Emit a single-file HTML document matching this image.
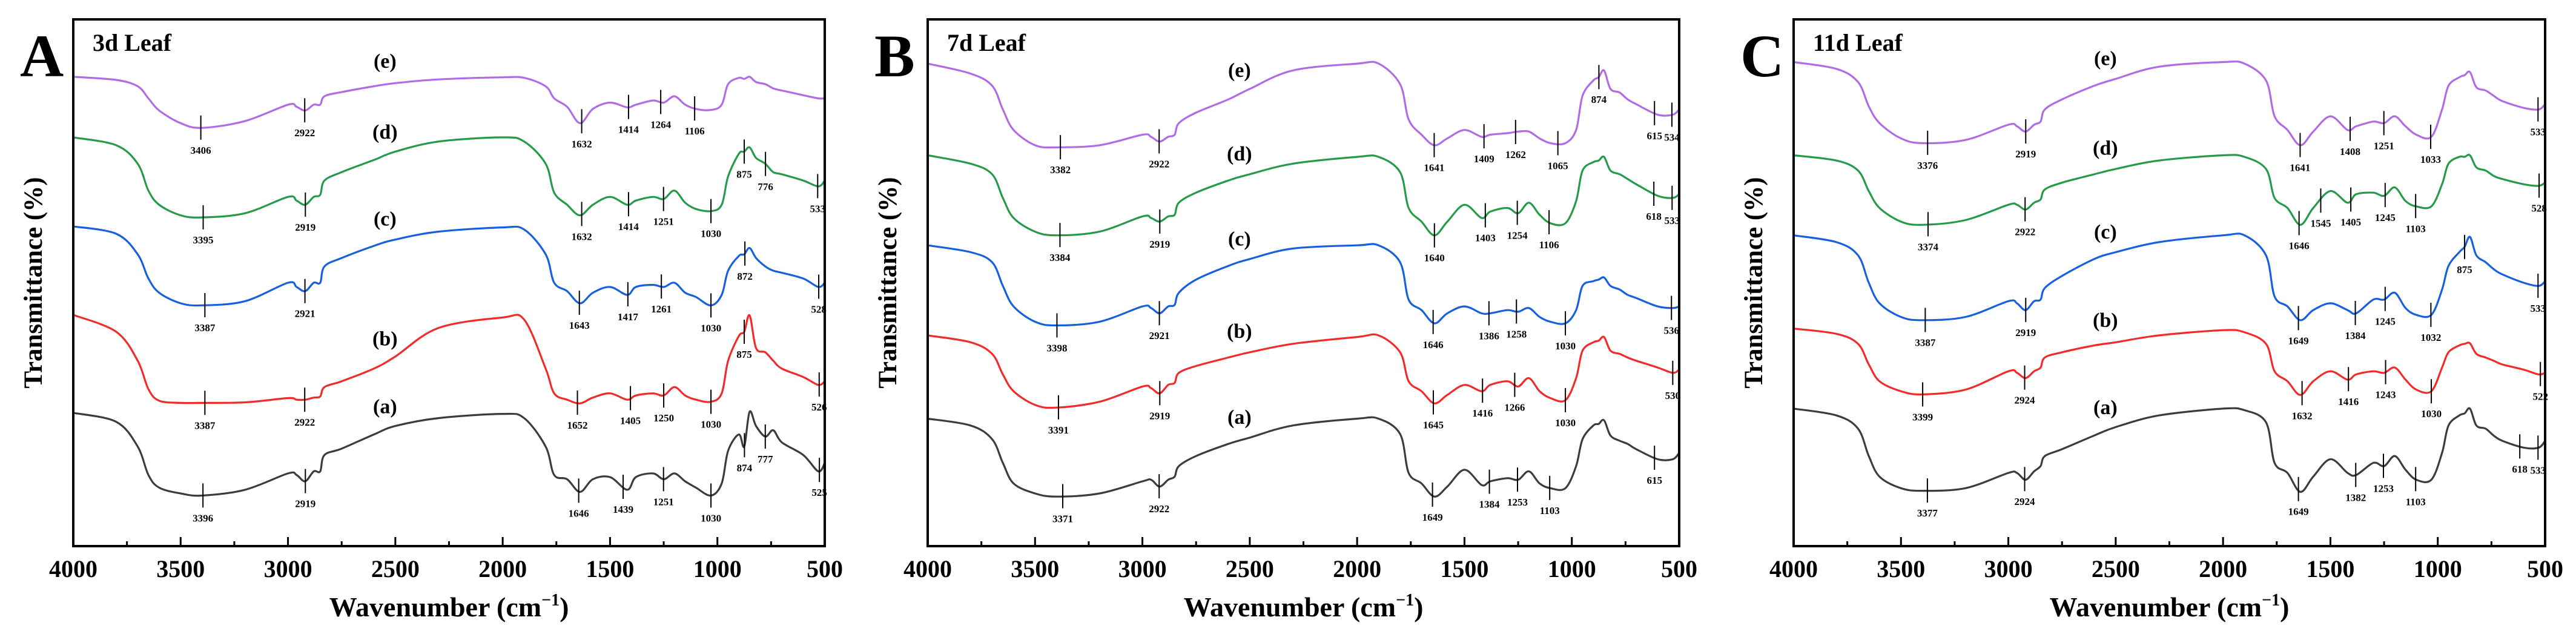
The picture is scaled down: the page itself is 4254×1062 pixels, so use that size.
<!DOCTYPE html>
<html><head><meta charset="utf-8"><style>
html,body{margin:0;padding:0;background:#fff;}
svg{display:block;font-family:"Liberation Serif",serif;font-weight:bold;}
</style></head><body>
<svg id="fig" width="4254" height="1062" viewBox="0 0 4254 1062" xmlns="http://www.w3.org/2000/svg"></svg>
<script>
const wavenumbers=[4000,3800,3700,3650,3600,3500,3400,3200,3000,2960,2920,2880,2850,2830,2750,2600,2500,2300,2000,1900,1800,1760,1700,1640,1580,1500,1420,1380,1300,1250,1200,1150,1100,1030,980,950,900,875,850,820,777,740,700,600,530,500];
const xTicks=[4000,3500,3000,2500,2000,1500,1000,500];
const seriesNames=['a','b','c','d','e'];
const panelTitles=['3d Leaf','7d Leaf','11d Leaf'];
const panelLetters=['A','B','C'];
// Panel A
const A_a=[25.3,23.6,18.9,13.5,11.1,10.0,9.6,10.7,13.8,13.5,12.3,14.2,14.2,17.3,18.5,21.2,22.8,24.3,25.1,24.3,18.9,13.5,12.7,10.3,12.7,13.1,10.7,13.1,13.8,12.7,13.8,12.3,11.1,9.6,11.9,18.1,21.2,18.9,25.5,22.8,20.8,22,19.7,17.3,14.2,15.8];
const A_b=[43.9,40.7,35.2,29.8,27.6,27.2,27.2,27.3,28.1,27.8,27.8,28.2,28.4,30.2,31.3,33.7,36,41.4,43.4,43,33.7,29,27.8,27.1,28.2,29,27.8,28.6,29,28.6,30.2,28.6,27.8,27.4,29,35.2,39.9,40.7,43.8,37.6,36.8,35.2,33.7,32.1,30.6,31.3];
const A_c=[60.7,59.3,55.4,50.8,48.1,46.1,45.7,46.5,50,49.2,48.4,50,50,53.1,54.7,57,58.2,59.7,60.5,60.1,55.4,50,48.4,46.1,48.1,49.2,47.7,49.2,49.6,49.2,50,48.1,47.3,45.7,47.7,52.3,55.1,55.4,56.6,54.7,53.1,52.3,51.9,50.8,49.2,50];
const A_d=[77.6,76.1,72.6,67.5,64.8,62.8,62.4,63.2,66.3,65.6,64.8,66.3,66.7,69.4,71,73.3,74.9,76.8,77.6,76.8,72.6,67.1,64.8,62.8,64.8,66.3,64.8,65.6,66.3,65.9,67.5,65.2,64,63.6,64.8,70.2,74.5,74.9,75.7,73.7,72.6,71,70.6,69.4,68.3,69.4];
const A_e=[89.1,88.5,87.3,85,82.7,80.3,79.4,80.7,83.8,83.4,82.7,83.8,83.8,85.4,86.2,87.3,87.9,88.6,89,88.9,87.3,85,83.4,80.3,83,84.2,83.3,83.8,84.6,84.2,85.4,83.8,83,82.8,83.8,87.7,88.9,88.7,89.1,88.1,87.7,86.9,86.5,85.6,85,85];
// Panel B
const B_a=[24.2,22.9,20.3,15.8,11.9,10,9.4,10,12.3,12.6,11.3,12.6,13.2,15.2,17.1,19.4,20.6,22.9,24.2,24.2,21.3,13.9,11.9,9.4,11.3,14.5,11.6,12.3,12.9,12.6,14.2,11.9,11,11,15.2,20.3,22.9,23.2,23.9,21,20,19.4,18.4,16.5,16.5,17.7];
const B_b=[40,38.7,36.5,32.6,29.4,26.8,26.3,27.4,30.3,30,29,30.6,31,32.9,34.2,35.8,36.8,38.4,39.7,40,36.8,31.3,29.4,27.1,28.7,30.6,29.4,30.6,31.3,30.3,31.9,29.4,28.1,27.7,31.9,37.1,38.7,39,39.7,37.1,36.5,35.8,35.2,33.9,32.9,33.5];
const B_c=[57.1,55.8,53.9,49.4,45.5,42.6,41.9,42.6,45.5,45.2,44.2,45.5,45.8,48.1,50.6,53.2,54.5,56.5,57.1,57.1,53.9,46.8,44.8,42.3,44.2,45.5,44.2,44.2,44.8,44.5,45.2,43.5,42.6,42.3,44.8,49.4,50.3,50.6,51,49.4,48.7,47.7,47.1,45.5,45.2,45.5];
const B_d=[74.2,72.6,70.6,66.1,62.3,59.7,59,59.7,62.6,62.3,61.6,62.6,62.9,65.2,67.1,69.4,70.6,72.6,73.9,73.9,71,64.2,61.6,59,61.6,64.8,62.3,63.5,64.2,63.2,65.2,62.9,61.3,61.3,65.5,71.3,72.9,73.2,73.9,71.3,70.6,69.7,68.7,66.5,66.1,66.8];
const B_e=[91.6,89.7,87.4,82.9,79,76.1,75.7,76.1,78.1,77.7,76.8,77.7,78.1,80.3,82.3,84.8,86.8,90.3,91.6,91.6,87.7,81,78.1,76.1,77.4,79,77.7,78.1,78.4,78.7,78.7,77.4,76.5,76.5,79,85.5,88.4,89,90.3,86.8,86.1,84.8,83.9,81.9,81.9,82.9];
// Panel C
const C_a=[26.1,24.8,22.3,17.1,13.2,11,10.5,11,13.9,13.9,12.6,14.2,15.2,17.1,18.4,21,22.6,24.8,26.1,25.8,23.5,15.8,13.9,10.3,13.2,16.5,13.9,13.5,15.8,15.2,17.1,14.5,12.6,12.6,17.7,22.9,24.8,25.2,26.1,22.9,22.3,21,20,18.7,18.7,20];
const C_b=[41.3,40.3,38.4,34.5,31.3,29.4,28.8,29.7,33.2,32.9,31.9,33.2,33.9,35.8,36.8,38.1,38.7,40,41,40.6,38.4,33.2,31.3,28.7,31.3,33.2,31.6,32.6,33.2,32.9,33.9,31.6,29.7,29.4,33.9,36.8,38.1,38.4,38.5,36.5,35.8,35.2,34.5,33.5,32.6,32.9];
const C_c=[59,57.7,55.2,50,46.1,43.5,42.9,43.5,46.5,46.1,44.8,46.5,46.8,49,51.3,54.5,55.8,57.7,59,59,55.2,47.4,45.5,42.9,44.8,46.1,44.8,44.2,46.8,46.8,48.1,45.2,43.9,43.9,48.7,53.2,55.8,56.8,58.7,55.2,53.9,52.6,51.6,50,49.4,50.3];
const C_d=[74.2,73.2,71.3,67.4,64.2,61.6,61,61.9,64.8,64.8,63.9,65.2,65.8,67.7,69,70.6,71.6,73.2,74.2,73.9,71.6,66.1,64.2,61,64.2,67.4,65.2,66.8,67.1,66.5,68.1,65.5,64.5,64.5,68.7,72.6,73.9,73.9,74.2,71.9,71.3,70.3,69.7,68.7,68.4,69];
const C_e=[91.9,90.6,88.1,83.5,80.3,77.4,76.5,77.1,80,79.7,78.7,80,80.6,82.9,84.8,87.4,88.7,91,91.9,91.6,88.4,81.6,79,76.1,78.7,81.6,79,79.7,80.6,80.3,81.6,79.7,78.1,77.7,82.9,87.4,89,89.4,90,87.1,86.5,85.5,84.5,83.2,82.9,83.9];
// Peak annotations
const A_peaks_a=[3396,2919,1646,1439,1251,1030,874,777,525];
const A_peaks_b=[3387,2922,1652,1405,1250,1030,875,526];
const A_peaks_c=[3387,2921,1643,1417,1261,1030,872,528];
const A_peaks_d=[3395,2919,1632,1414,1251,1030,875,776,533];
const A_peaks_e=[3406,2922,1632,1414,1264,1106];
const B_peaks_a=[3371,2922,1649,1384,1253,1103,615];
const B_peaks_b=[3391,2919,1645,1416,1266,1030,530];
const B_peaks_c=[3398,2921,1646,1386,1258,1030,536];
const B_peaks_d=[3384,2919,1640,1403,1254,1106,618,533];
const B_peaks_e=[3382,2922,1641,1409,1262,1065,874,615,534];
const C_peaks_a=[3377,2924,1649,1382,1253,1103,618,533];
const C_peaks_b=[3399,2924,1632,1416,1243,1030,522];
const C_peaks_c=[3387,2919,1649,1384,1245,1032,875,533];
const C_peaks_d=[3374,2922,1646,1545,1405,1245,1103,528];
const C_peaks_e=[3376,2919,1641,1408,1251,1033,533];

const panels=[
 {left:121,series:[A_a,A_b,A_c,A_d,A_e],peaks:[A_peaks_a,A_peaks_b,A_peaks_c,A_peaks_d,A_peaks_e]},
 {left:1532,series:[B_a,B_b,B_c,B_d,B_e],peaks:[B_peaks_a,B_peaks_b,B_peaks_c,B_peaks_d,B_peaks_e]},
 {left:2962,series:[C_a,C_b,C_c,C_d,C_e],peaks:[C_peaks_a,C_peaks_b,C_peaks_c,C_peaks_d,C_peaks_e]}
];
const colors=['#3c3c3c','#f22a2a','#1660e0','#259a4a','#b06ce4'];
const TOP=32,BOT=902,PW=1241;
const NS='http://www.w3.org/2000/svg';
const svg=document.getElementById('fig');
function mk(tag,attrs,parent){const e=document.createElementNS(NS,tag);for(const k in attrs)e.setAttribute(k,attrs[k]);(parent||svg).appendChild(e);return e;}
function interp(arr,w){for(let i=0;i<wavenumbers.length-1;i++){const w0=wavenumbers[i],w1=wavenumbers[i+1];if(w<=w0&&w>=w1){const t=(w0-w)/(w0-w1);return arr[i]+t*(arr[i+1]-arr[i]);}}return arr[arr.length-1];}
function yS(v){return BOT-v/100*(BOT-TOP);}
function smoothPath(P){
 let d='M'+P[0][0].toFixed(1)+','+P[0][1].toFixed(1);
 for(let i=0;i<P.length-1;i++){
  const p0=P[Math.max(0,i-1)],p1=P[i],p2=P[i+1],p3=P[Math.min(P.length-1,i+2)];
  const c1x=p1[0]+(p2[0]-p0[0])/6,c1y=p1[1]+(p2[1]-p0[1])/6;
  const c2x=p2[0]-(p3[0]-p1[0])/6,c2y=p2[1]-(p3[1]-p1[1])/6;
  d+=' C'+c1x.toFixed(1)+','+c1y.toFixed(1)+' '+c2x.toFixed(1)+','+c2y.toFixed(1)+' '+p2[0].toFixed(1)+','+p2[1].toFixed(1);
 }
 return d;
}

panels.forEach((p,pi)=>{
 const xS=w=>p.left+(4000-w)/3500*PW;
 const g=mk('g',{});
 
 
 const L=mk('text',{x:p.left-88,y:126,'font-size':100,fill:'#000'},g);L.textContent=panelLetters[pi];
 
 
 const T=mk('text',{x:p.left+32,y:84,'font-size':40,fill:'#000'},g);T.textContent=panelTitles[pi];
 
 
 const yt=mk('text',{x:0,y:0,'font-size':43,'text-anchor':'middle',transform:`translate(${p.left-52},467) rotate(-90)`,fill:'#000'},g);yt.textContent='Transmittance (%)';
 
 
 const xt=mk('text',{x:p.left+PW/2,y:1018,'font-size':46,'text-anchor':'middle',fill:'#000'},g);
 xt.innerHTML='Wavenumber (cm<tspan dy="-18" font-size="28">−1</tspan><tspan dy="18">)</tspan>';
 
 
 p.series.forEach((arr,si)=>{
  const P=wavenumbers.map((w,i)=>[xS(w),yS(arr[i])]);
  const pl=mk('path',{d:smoothPath(P),fill:'none',stroke:colors[si],'stroke-width':3.2,'stroke-linejoin':'round'},g);
  
  
  const lab=mk('text',{x:xS(2548),y:yS(interp(arr,2548))-28,'font-size':34,'text-anchor':'middle',fill:'#000'},g);
  lab.textContent='('+seriesNames[si]+')';
  
  
  p.peaks[si].forEach(w=>{
   const x=xS(w),y=yS(interp(arr,w));
   const tk=mk('line',{x1:x,y1:y-20,x2:x,y2:y+20,stroke:'#000','stroke-width':2},g);
   
   
   const tx=mk('text',{x:x,y:y+43,'font-size':17,'text-anchor':'middle',fill:'#000'},g);
   tx.textContent=w;
   
   
  });
 });
 const fr=mk('rect',{x:p.left,y:TOP,width:PW,height:BOT-TOP,fill:'none',stroke:'#000','stroke-width':4},g);
 
 
 for(let w=4000;w>=500;w-=250){
  const major=(w%500===0);
  const tk=mk('line',{x1:xS(w),y1:BOT,x2:xS(w),y2:BOT-(major?15:8),stroke:'#000','stroke-width':3},g);
  
  
 }
 xTicks.forEach(w=>{
  const t=mk('text',{x:xS(w),y:953,'font-size':40,'text-anchor':'middle',fill:'#000'},g);
  t.textContent=w;
  
  
 });
});
</script>
</body></html>
